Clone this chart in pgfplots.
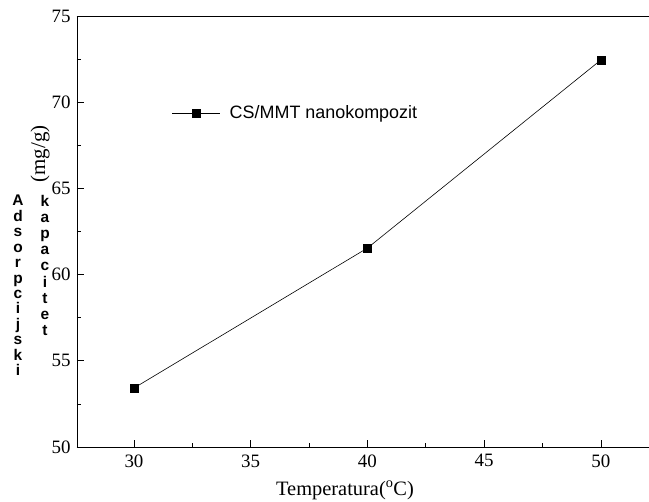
\documentclass[border=0pt]{standalone}
\usepackage{pgfplots}
\pgfplotsset{compat=1.18}
\usepackage{fontspec}
\setmainfont{Liberation Serif}
\newfontfamily\arial{Liberation Sans}
\begin{document}
\begin{tikzpicture}
\useasboundingbox (-77bp,-55bp) rectangle (572bp,447bp);
\begin{axis}[
  scale only axis,
  width=572bp, height=431bp,
  xmin=27.56, xmax=52.06,
  ymin=50, ymax=75,
  xtick={30,35,40,45,50},
  ytick={50,55,60,65,70,75},
  minor x tick num=1,
  minor y tick num=1,
  axis lines*=left,
  axis line style={line width=0.9pt, -},
  tick align=inside,
  major tick length=7bp,
  minor tick length=4bp,
  tick style={line width=0.8pt, black},
  /pgf/number format/assume math mode=true,
  ticklabel style={font=\fontsize{19}{22}\selectfont},
  xticklabel style={yshift=-4bp},
  yticklabel style={xshift=-3bp},
  xlabel={Temperatura(\textsuperscript{o}C)},
  xlabel style={font=\fontsize{20.5}{24}\selectfont, yshift=-7bp, xshift=-18bp},
  legend style={draw=none, fill=none, at={(0.166,0.775)}, anchor=west,
    font=\arial\fontsize{18}{21}\selectfont, inner sep=0pt},
  legend image code/.code={\draw[#1, mark repeat=2, mark phase=2] plot coordinates {(0bp,0bp)(24bp,0bp)(48bp,0bp)};},
  clip=false,
]
\addplot[black, line width=0.6pt, mark=square*, mark size=4bp, mark options={solid, fill=black}]
  coordinates {(30,53.42) (40,61.54) (50,72.45)};
\addlegendentry{\hspace*{7bp}CS/MMT nanokompozit}
\draw[line width=0.9pt] (rel axis cs:0,1) -- (rel axis cs:1,1);
\end{axis}
\node[anchor=north, inner sep=0pt, align=center, font=\arial\bfseries\fontsize{15.5}{15.5}\selectfont] at (-59bp,252bp)
  {A\\d\\s\\o\\r\\p\\c\\i\\j\\s\\k\\i};
\node[anchor=north, inner sep=0pt, align=center, font=\arial\bfseries\fontsize{15.5}{16.2}\selectfont] at (-32bp,252bp)
  {k\\a\\p\\a\\c\\i\\t\\e\\t};
\node[rotate=90, inner sep=0pt, font=\fontsize{21}{24}\selectfont] at (-37bp,293bp) {(mg/g)};
\end{tikzpicture}
\end{document}
